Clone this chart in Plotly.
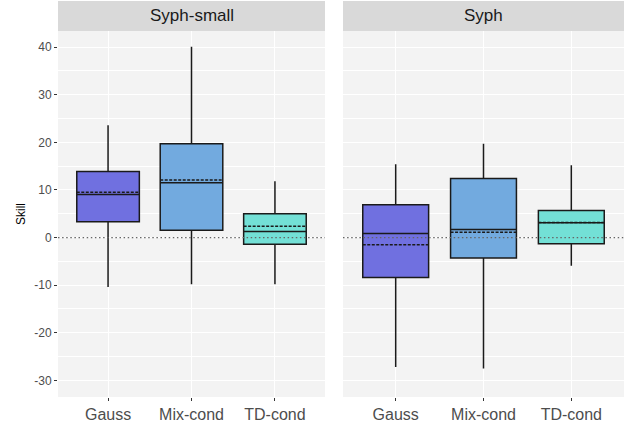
import plotly.graph_objects as go
from plotly.subplots import make_subplots

# ---- data ----
panels = ["Syph-small", "Syph"]
categories = ["Gauss", "Mix-cond", "TD-cond"]
colors = ["#7070E0", "#72AADF", "#73E0D6"]

# per panel: lists ordered as categories
lower_whisker = {"Syph-small": [-10.4, -9.8, -9.8], "Syph": [-27.2, -27.5, -5.9]}
q1 = {"Syph-small": [3.3, 1.55, -1.4], "Syph": [-8.4, -4.3, -1.3]}
median = {"Syph-small": [9.05, 11.5, 1.26], "Syph": [0.84, 1.7, 3.1]}
mean = {"Syph-small": [9.5, 12.1, 2.4], "Syph": [-1.5, 1.1, 3.15]}
q3 = {"Syph-small": [13.9, 19.7, 5.0], "Syph": [6.9, 12.4, 5.7]}
upper_whisker = {"Syph-small": [23.6, 40.1, 11.85], "Syph": [15.4, 19.7, 15.2]}

reference_value = 0

y_tick_vals = [-30, -20, -10, 0, 10, 20, 30, 40]
y_tick_labels = ["-30", "-20", "-10", "0", "10", "20", "30", "40"]
y_minor_vals = [-25, -15, -5, 5, 15, 25, 35]

W, H = 633, 424
ML, MR, MT, MB = 58, 9, 0, 27
plot_w = W - ML - MR
plot_h = H - MT - MB
strip_h = 30

left_end = (325 - ML) / plot_w
right_start = (343 - ML) / plot_w
y_top = (plot_h - strip_h - 1) / plot_h

FONT = "Liberation Sans, Arial, sans-serif"
PANEL_BG = "#F3F3F3"

positions = list(range(len(categories)))
x_range = [-0.6, len(categories) - 0.4]

fig = make_subplots(rows=1, cols=2, shared_yaxes=True, horizontal_spacing=0.02)

for pi, panel in enumerate(panels):
    # dotted reference line at zero, drawn first (under the boxes)
    fig.add_trace(
        go.Scatter(
            x=x_range, y=[reference_value, reference_value], mode="lines",
            line=dict(color="#666666", width=1.3, dash="1.5px,2.6px"),
            showlegend=False, hoverinfo="skip",
        ),
        row=1, col=pi + 1,
    )
    for ci, cat in enumerate(categories):
        fig.add_trace(
            go.Box(
                x=[positions[ci]],
                q1=[q1[panel][ci]],
                median=[median[panel][ci]],
                q3=[q3[panel][ci]],
                lowerfence=[lower_whisker[panel][ci]],
                upperfence=[upper_whisker[panel][ci]],
                mean=[mean[panel][ci]],
                boxmean=True,
                boxpoints=False,
                fillcolor=colors[ci],
                line=dict(color="#1a1a1a", width=1.5),
                width=0.75,
                whiskerwidth=0,
                showlegend=False,
                hoverinfo="skip",
                name=cat,
            ),
            row=1, col=pi + 1,
        )

xdomains = [[0, left_end], [right_start, 1]]
for i in range(2):
    xa = "xaxis" if i == 0 else "xaxis2"
    fig.layout[xa].update(
        domain=xdomains[i],
        range=x_range,
        tickmode="array",
        tickvals=positions,
        ticktext=categories,
        showgrid=True,
        gridcolor="white",
        gridwidth=1.3,
        ticks="outside",
        ticklen=3,
        tickwidth=1,
        tickcolor="#333333",
        tickfont=dict(family=FONT, size=16, color="#4D4D4D"),
        showline=False,
        zeroline=False,
        fixedrange=True,
        automargin=False,
    )
    ya = "yaxis" if i == 0 else "yaxis2"
    fig.layout[ya].update(
        domain=[0, y_top],
        range=[-33.5, 43.4],
        tickmode="array",
        tickvals=y_tick_vals,
        ticktext=y_tick_labels,
        showgrid=True,
        gridcolor="white",
        gridwidth=1.3,
        minor=dict(tickmode="array", tickvals=y_minor_vals, showgrid=True,
                   gridcolor="white", gridwidth=0.7, ticks=""),
        zeroline=False,
        showline=False,
        fixedrange=True,
        automargin=False,
    )

fig.layout.yaxis.update(
    ticks="outside", ticklen=3, tickwidth=1, tickcolor="#333333",
    tickfont=dict(family=FONT, size=12, color="#4D4D4D"),
    title=dict(text="Skill", font=dict(family=FONT, size=12, color="black"), standoff=6),
)
fig.layout.yaxis2.update(showticklabels=False, ticks="", matches="y")

# strips
shapes = []
annotations = []
for i, panel in enumerate(panels):
    x0, x1 = xdomains[i]
    shapes.append(dict(type="rect", xref="paper", yref="paper", x0=x0, x1=x1, y0=y_top,
                       y1=1 - 1 / plot_h, fillcolor="#D9D9D9", line=dict(width=0), layer="below"))
    annotations.append(dict(text=panel, xref="paper", yref="paper", x=(x0 + x1) / 2,
                            y=(y_top + 1) / 2, showarrow=False, xanchor="center", yanchor="middle",
                            font=dict(family=FONT, size=17, color="#1A1A1A")))

fig.update_layout(
    width=W, height=H,
    margin=dict(l=ML, r=MR, t=MT, b=MB, pad=0),
    plot_bgcolor=PANEL_BG,
    paper_bgcolor="white",
    boxmode="overlay",
    shapes=shapes,
    annotations=annotations,
    font=dict(family=FONT),
    showlegend=False,
)

fig.write_html("out.html", config={"displayModeBar": False},
               post_script="document.body.style.margin='0';")
